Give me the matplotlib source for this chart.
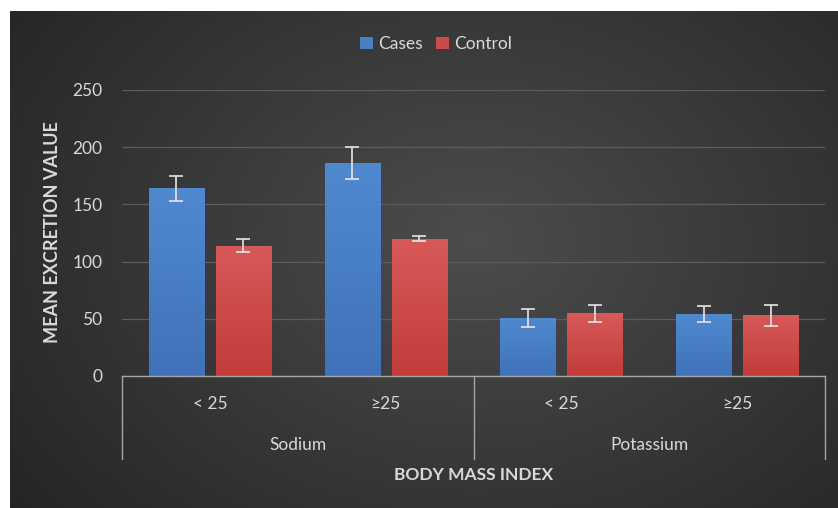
import numpy as np
import matplotlib
matplotlib.use("Agg")
import matplotlib.pyplot as plt
from matplotlib.patches import Patch, Rectangle

plt.rcParams['font.family'] = ['Lato', 'DejaVu Sans']

categories = ["< 25", "\u226525", "< 25", "\u226525"]
groups = ["Sodium", "Potassium"]
series = ["Cases", "Control"]
cases = [164, 186, 51, 54]
cases_err = [11, 14, 8, 7]
control = [114, 120, 55, 53]
control_err = [5.5, 2, 7.5, 9]
yticks = [0, 50, 100, 150, 200, 250]

W, H = 838, 508
fig = plt.figure(figsize=(W / 100, H / 100), dpi=100, facecolor="#262626")

# background radial gradient (pixel-exact), white margin at left and top
bw_px, bh_px = W - 10, H - 11
yy, xx = np.mgrid[0:bh_px, 0:bw_px]
cx, cy = 464, 230
r = np.sqrt(((xx - cx) / 560.0) ** 2 + ((yy - cy) / 420.0) ** 2)
val = np.clip(0.30 - 0.15 * np.clip(r, 0, 1.2), 0.14, 0.30)
fig.figimage(np.dstack([val, val, val]), xo=10, yo=0, origin="upper", zorder=-10)
fig.patches.append(Rectangle((0, 0), 10 / W, 1, transform=fig.transFigure,
                             facecolor="white", edgecolor="none", zorder=-5))
fig.patches.append(Rectangle((0, 1 - 11 / H), 1, 11 / H, transform=fig.transFigure,
                             facecolor="white", edgecolor="none", zorder=-5))

ax = fig.add_axes([122 / W, (H - 376) / H, (825 - 122) / W, (376 - 90) / H])
ax.set_zorder(5)
ax.set_facecolor("none")
for s in ax.spines.values():
    s.set_visible(False)

x = np.arange(len(categories))
bw = 0.313
off = 0.19

grid_c = "#5c5c5c"
ax.set_ylim(0, 250)
ax.set_xlim(-0.5, 3.5)
ax.set_yticks(yticks)
ax.yaxis.grid(True, color=grid_c, lw=0.9)
ax.set_axisbelow(True)
ax.tick_params(axis="y", length=0, pad=14, labelsize=12.5, labelcolor="#d9d9d9")
ax.set_xticks([])

def grad_bars(xs, vals, top_c, bot_c):
    bars = ax.bar(xs, vals, bw, color=bot_c, zorder=2)
    t = np.array(matplotlib.colors.to_rgb(top_c))
    b = np.array(matplotlib.colors.to_rgb(bot_c))
    g = np.linspace(0, 1, 100)[:, None]
    img = (t[None, :] * (1 - g) + b[None, :] * g)[:, None, :]
    for bar in bars:
        x0, w = bar.get_x(), bar.get_width()
        h = bar.get_height()
        im = ax.imshow(img, extent=[x0, x0 + w, 0, h], aspect="auto", origin="upper", zorder=2.5)
        im.set_clip_path(bar)
    return bars

grad_bars(x - off, cases, "#5089d0", "#3f72ba")
grad_bars(x + off, control, "#d65a58", "#c23c3a")
ax.set_xlim(-0.5, 3.5)
ax.set_ylim(0, 250)

ek = dict(fmt="none", ecolor="#e6e6e6", elinewidth=1.2, capsize=5, capthick=1.2, zorder=4)
ax.errorbar(x - off, cases, yerr=cases_err, **ek)
ax.errorbar(x + off, control, yerr=control_err, **ek)

# category axis
tr = ax.get_xaxis_transform()
axis_c = "#a6a6a6"
ax.plot([-0.5, 3.5], [0, 0], color=axis_c, lw=1.0, transform=tr, clip_on=False, zorder=5)
ybot = (376 - 459) / 286
for xv in [-0.5, 1.5, 3.5]:
    ax.plot([xv, xv], [0, ybot], color=axis_c, lw=1.0, transform=tr, clip_on=False)
tc = "#d9d9d9"
for xi, lab in zip(x, categories):
    ax.text(xi, (376 - 404) / 286, lab, transform=tr, ha="center", va="center",
            fontsize=12.5, color=tc)
for gi, g in enumerate(groups):
    ax.text(gi * 2 + 0.5, (376 - 445) / 286, g, transform=tr, ha="center", va="center",
            fontsize=12.5, color=tc)
ax.text(1.5, (376 - 475) / 286, "BODY MASS INDEX", transform=tr, ha="center", va="center",
        fontsize=12.5, fontweight="bold", color=tc)
fig.text(52 / W, (H - 232) / H, "MEAN EXCRETION VALUE", rotation=90, ha="center", va="center",
         fontsize=13, fontweight="bold", color=tc)

handles = [Patch(facecolor="#4a7fc4", label=series[0]), Patch(facecolor="#cc4a48", label=series[1])]
fig.legend(handles=handles, loc="center", bbox_to_anchor=(436 / W, 1 - 44 / H), ncol=2,
           frameon=False, fontsize=12.5, labelcolor=tc, handlelength=0.75, handleheight=0.75,
           handletextpad=0.3, columnspacing=0.8)

fig.savefig("out.png", dpi=100, facecolor=fig.get_facecolor())
